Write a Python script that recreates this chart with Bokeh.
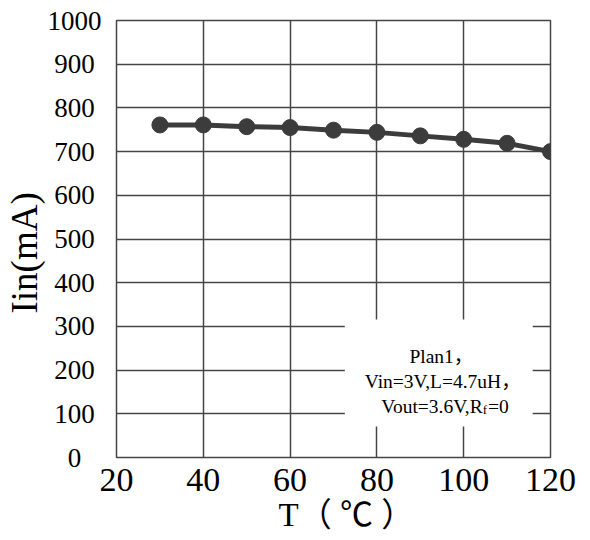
from bokeh.plotting import figure
from bokeh.models import Label, BoxAnnotation, FixedTicker, Title
from bokeh.embed import file_html
from bokeh.resources import INLINE

# data
temps = [30, 40, 50, 60, 70, 80, 90, 100, 110, 120]
iin_ma = [761, 761, 757, 755, 749, 744, 736, 728, 719, 700]
x_ticks = [20, 40, 60, 80, 100, 120]
y_ticks = [0, 100, 200, 300, 400, 500, 600, 700, 800, 900, 1000]

SERIF = "Liberation Serif"
SERIF_CJK = "Liberation Serif, 'Noto Sans CJK SC'"
DARK = "#3c3c3c"
GRID = "#454545"
PS = "\u2008"  # punctuation space, half a digit wide: keeps labels centred

p = figure(width=590, height=540, x_range=(20, 120), y_range=(0, 1000),
           output_backend="svg", toolbar_location=None,
           min_border_left=113, min_border_right=40,
           min_border_top=20, min_border_bottom=83)

p.background_fill_color = "white"
p.border_fill_color = "white"
p.outline_line_color = GRID
p.outline_line_width = 1.5

for ax in (p.xaxis[0], p.yaxis[0]):
    ax.axis_line_color = None
    ax.major_tick_line_color = None
    ax.minor_tick_line_color = None
    ax.major_label_text_font = SERIF
    ax.major_label_text_color = "black"

p.xaxis[0].ticker = FixedTicker(ticks=x_ticks)
p.yaxis[0].ticker = FixedTicker(ticks=y_ticks)
p.xaxis[0].major_label_text_font_size = "34px"
p.xaxis[0].major_label_standoff = 5
p.yaxis[0].major_label_text_font_size = "27px"
p.yaxis[0].major_label_standoff = 9
p.yaxis[0].major_label_overrides = {
    v: str(v) + PS * (4 - len(str(v))) for v in y_ticks
}

p.yaxis[0].axis_label = "Iin(mA)\u2002\u2005"
p.yaxis[0].axis_label_text_font = SERIF
p.yaxis[0].axis_label_text_font_size = "37px"
p.yaxis[0].axis_label_text_font_style = "normal"
p.yaxis[0].axis_label_text_color = "black"
p.yaxis[0].axis_label_standoff = 0

p.add_layout(Title(text="T（\u2005℃\u2005）", align="left", offset=162, standoff=3,
                   text_font=SERIF_CJK, text_font_size="33px",
                   text_font_style="normal", text_color="black"), "below")

p.xgrid.ticker = FixedTicker(ticks=x_ticks)
p.ygrid.ticker = FixedTicker(ticks=y_ticks)
for g in (p.xgrid[0], p.ygrid[0]):
    g.grid_line_color = GRID
    g.grid_line_width = 1.5
    g.level = "underlay"

# series
p.line(temps, iin_ma, line_color=DARK, line_width=5)
p.scatter(temps, iin_ma, size=16, fill_color=DARK, line_color=DARK)

# text box
p.add_layout(BoxAnnotation(left=72.6, right=115.9, bottom=71, top=316,
                           fill_color="white", fill_alpha=1, line_color=None,
                           level="underlay"))

def lab(x, y, t, size="19.5px", align="left"):
    p.add_layout(Label(x=x, y=y, text=t, text_font=SERIF_CJK, text_font_size=size,
                       text_color="black", text_align=align,
                       text_baseline="alphabetic"))

lab(87.5, 230, "Plan1，")
lab(77.2, 172.8, "Vin=3V,L=4.7uH，")
lab(104.37, 115.6, "Vout=3.6V,R", align="right")
lab(104.37, 108.7, "f", size="13px")
lab(105.6, 115.6, "=0")

open("out.html", "w").write(file_html(p, INLINE))
